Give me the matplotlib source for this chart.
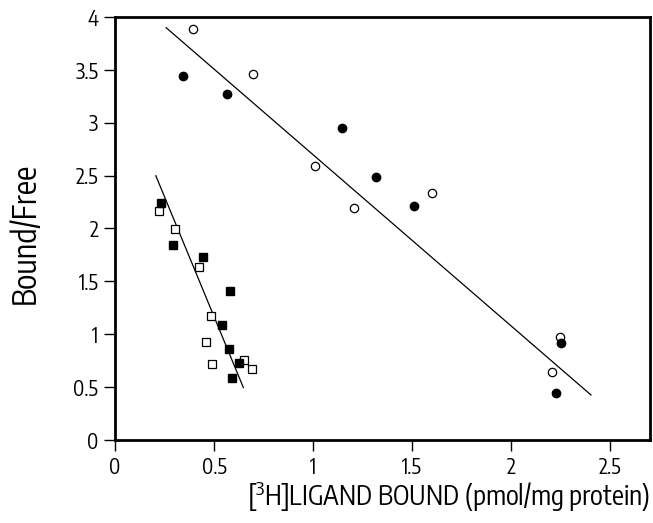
import matplotlib
matplotlib.use("Agg")
import matplotlib.pyplot as plt

FONT = 'Encode Sans Condensed'
plt.rcParams['font.family'] = [FONT, 'DejaVu Sans']
plt.rcParams['mathtext.fontset'] = 'custom'
plt.rcParams['mathtext.rm'] = FONT

# Data
open_circ_x = [0.395, 0.697, 1.008, 1.207, 1.599, 2.206, 2.247]
open_circ_y = [3.884, 3.461, 2.594, 2.19, 2.34, 0.646, 0.97]
fill_circ_x = [0.343, 0.564, 1.146, 1.318, 1.509, 2.251, 2.227]
fill_circ_y = [3.445, 3.272, 2.953, 2.49, 2.21, 0.92, 0.44]
open_sq_x = [0.224, 0.303, 0.423, 0.483, 0.458, 0.488, 0.652, 0.690]
open_sq_y = [2.168, 1.995, 1.633, 1.173, 0.927, 0.716, 0.754, 0.671]
fill_sq_x = [0.232, 0.291, 0.443, 0.581, 0.542, 0.577, 0.628, 0.591]
fill_sq_y = [2.238, 1.844, 1.728, 1.406, 1.087, 0.863, 0.731, 0.583]
line1_x = [0.258, 2.402]
line1_y = [3.899, 0.426]
line2_x = [0.206, 0.648]
line2_y = [2.499, 0.495]
xticks = [0, 0.5, 1, 1.5, 2, 2.5]
xticklabels = ['0', '0.5', '1', '1.5', '2', '2.5']
yticks = [0, 0.5, 1, 1.5, 2, 2.5, 3, 3.5, 4]
yticklabels = ['0', '0.5', '1', '1.5', '2', '2.5', '3', '3.5', '4']

fig = plt.figure(figsize=(6.53, 5.23), dpi=100)
ax = fig.add_axes([115/653, 1-440/523, (650-115)/653, (440-17)/523])

ax.plot(line1_x, line1_y, color='black', lw=0.9)
ax.plot(line2_x, line2_y, color='black', lw=0.9)
ax.plot(open_circ_x, open_circ_y, 'o', ms=6, mfc='white', mec='black', mew=0.9, ls='none')
ax.plot(fill_circ_x, fill_circ_y, 'o', ms=6, mfc='black', mec='black', ls='none')
ax.plot(open_sq_x, open_sq_y, 's', ms=6.3, mfc='white', mec='black', mew=0.9, ls='none')
ax.plot(fill_sq_x, fill_sq_y, 's', ms=6.3, mfc='black', mec='black', ls='none')

ax.set_xlim(0, 2.7)
ax.set_ylim(0, 4)
ax.set_xticks(xticks)
ax.set_xticklabels(xticklabels)
ax.set_yticks(yticks)
ax.set_yticklabels(yticklabels)
for s in ax.spines.values():
    s.set_linewidth(2)
ax.tick_params(direction='out', length=8, width=1, labelsize=15, pad=4)
ax.set_xlabel(r'[$^{\mathregular{3}}$H]LIGAND BOUND (pmol/mg protein)', fontsize=19.3)
ax.xaxis.set_label_coords(0.624, -0.093)
ax.set_ylabel('Bound/Free', fontsize=23)
ax.yaxis.set_label_coords(-0.137, 0.489)

fig.savefig('out.png', dpi=100)
